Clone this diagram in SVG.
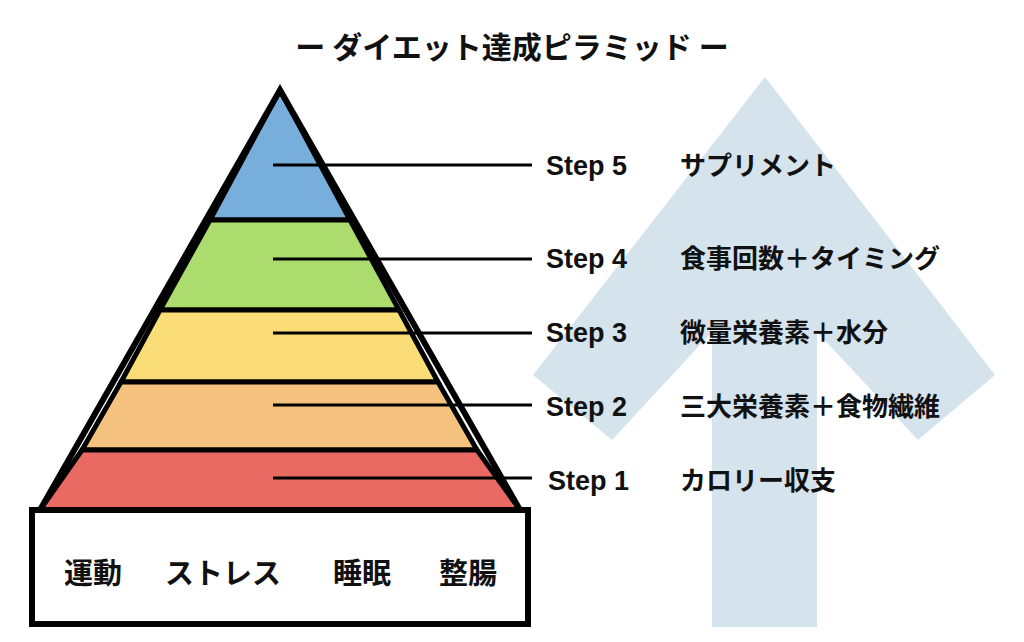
<svg xmlns="http://www.w3.org/2000/svg" width="1024" height="642" viewBox="0 0 1024 642">
<style>
.t{font-family:"Noto Sans CJK JP","Noto Sans",sans-serif;font-weight:bold;fill:#111}
.s{font-family:"Liberation Sans","Noto Sans CJK JP",sans-serif;font-weight:bold;fill:#111;font-size:27px}
.lv{stroke:#000;stroke-width:5;stroke-linejoin:miter}
.ln{stroke:#000;stroke-width:3}
</style>
<rect width="1024" height="642" fill="#fff"/>
<g id="arrow"><polygon points="765,77 995,375 918,440 817,332 817,627 712,627 712,332 612,440 533,375" fill="#d5e3ec"/></g>
<text class="t" x="512" y="58" font-size="30" text-anchor="middle">ー ダイエット達成ピラミッド ー</text>
<g id="pyramid">
<polygon class="lv" points="280,90 350,220 210,220" fill="#77aedb"/>
<polygon class="lv" points="210,220 350,220 399,310 160,310" fill="#abdc6d"/>
<polygon class="lv" points="160,310 399,310 438,382 121,382" fill="#fbdd78"/>
<polygon class="lv" points="121,382 438,382 477,450 82,450" fill="#f4c17f"/>
<polygon class="lv" points="82,450 477,450 520,510 40,510" fill="#e96a63"/>
<polygon points="280,90 520,510 40,510" fill="none" stroke="#000" stroke-width="6" stroke-linejoin="miter"/>
</g>
<g id="base"><rect x="32" y="510" width="496" height="114" fill="#fff" stroke="#000" stroke-width="6"/>
<text class="t" font-size="29" y="584" x="64">運動</text>
<text class="t" font-size="29" y="584" x="165">ストレス</text>
<text class="t" font-size="29" y="584" x="333">睡眠</text>
<text class="t" font-size="29" y="584" x="439">整腸</text></g>
<g id="connectors">
<line class="ln" x1="273" y1="165" x2="532" y2="165"/>
<line class="ln" x1="273" y1="259" x2="532" y2="259"/>
<line class="ln" x1="273" y1="333" x2="532" y2="333"/>
<line class="ln" x1="273" y1="405" x2="532" y2="405"/>
<line class="ln" x1="273" y1="478" x2="532" y2="478"/>
</g>
<g id="labels">
<text class="s" x="546" y="175">Step 5</text><text class="t" font-size="26" x="680" y="175">サプリメント</text>
<text class="s" x="546" y="268">Step 4</text><text class="t" font-size="26" x="680" y="268">食事回数＋タイミング</text>
<text class="s" x="546" y="342">Step 3</text><text class="t" font-size="26" x="680" y="342">微量栄養素＋水分</text>
<text class="s" x="546" y="416">Step 2</text><text class="t" font-size="26" x="680" y="416">三大栄養素＋食物繊維</text>
<text class="s" x="548" y="490">Step 1</text><text class="t" font-size="26" x="680" y="490">カロリー収支</text>
</g>
</svg>
